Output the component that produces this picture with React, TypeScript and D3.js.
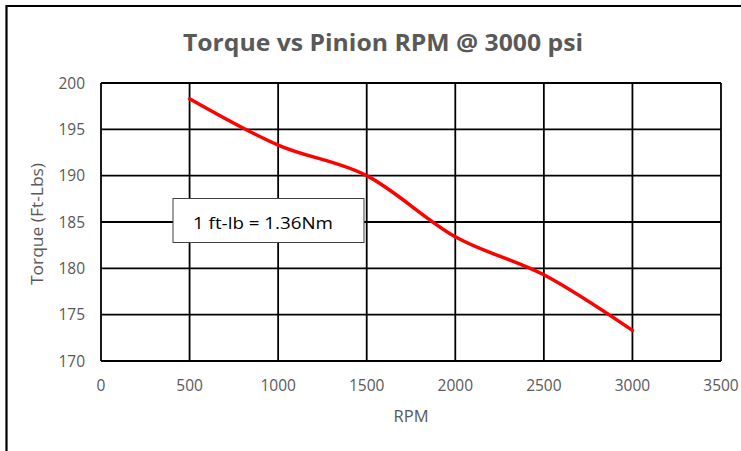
import React from "react";
import * as d3 from "d3";

const rpm = [500, 1000, 1500, 2000, 2500, 3000];
const torque = [198.3, 193.3, 190.0, 183.4, 179.3, 173.3];
const xTicks = [0, 500, 1000, 1500, 2000, 2500, 3000, 3500];
const yTicks = [170, 175, 180, 185, 190, 195, 200];
const title = "Torque vs Pinion RPM  @ 3000 psi";
const xTitle = "RPM";
const yTitle = "Torque (Ft-Lbs)";
const note = "1 ft-lb = 1.36Nm";

const W = 741;
const H = 451;
const FONT = "'Open Sans', 'DejaVu Sans', sans-serif";
const GRAY = "#595959";

export default function App() {
  const x = d3.scaleLinear().domain([0, 3500]).range([101, 721]);
  const y = d3.scaleLinear().domain([170, 200]).range([361, 83]);
  const pts: [number, number][] = rpm.map((r, i) => [r, torque[i]]);
  const line = d3
    .line<[number, number]>()
    .x((d) => x(d[0]))
    .y((d) => y(d[1]))
    .curve(d3.curveCardinal.tension(0));

  return (
    <svg
      width={W}
      height={H}
      style={{ position: "absolute", left: 0, top: 0, display: "block" }}
    >
      <rect x={0} y={0} width={W} height={H} fill="#fff" />
      {/* outer frame (top and left visible) */}
      <line x1={6.5} y1={6} x2={W} y2={6} stroke="#000" strokeWidth={2.2} />
      <line x1={6.5} y1={5} x2={6.5} y2={H} stroke="#000" strokeWidth={2.2} />

      <text
        x={383}
        y={51}
        textAnchor="middle"
        fontFamily={FONT}
        fontWeight="bold"
        fontSize={23}
        fill={GRAY}
        textLength={400}
        lengthAdjust="spacingAndGlyphs"
      >
        {title}
      </text>

      {/* grid */}
      {yTicks.map((t) => (
        <line
          key={"gy" + t}
          x1={x(0)}
          x2={x(3500)}
          y1={y(t)}
          y2={y(t)}
          stroke="#000"
          strokeWidth={1.8}
        />
      ))}
      {xTicks.map((t) => (
        <line
          key={"gx" + t}
          x1={x(t)}
          x2={x(t)}
          y1={y(170)}
          y2={y(200)}
          stroke="#000"
          strokeWidth={1.8}
        />
      ))}

      {/* y tick labels */}
      {yTicks.map((t) => (
        <text
          key={"ly" + t}
          x={85}
          y={y(t) + 5.5}
          textAnchor="end"
          fontFamily={FONT}
          fontSize={15.5}
          fill={GRAY}
        >
          {t}
        </text>
      ))}
      {/* x tick labels */}
      {xTicks.map((t) => (
        <text
          key={"lx" + t}
          x={x(t)}
          y={391}
          textAnchor="middle"
          fontFamily={FONT}
          fontSize={15.5}
          fill={GRAY}
        >
          {t}
        </text>
      ))}

      <text
        x={411}
        y={422}
        textAnchor="middle"
        fontFamily={FONT}
        fontSize={16.5}
        fill={GRAY}
      >
        {xTitle}
      </text>
      <text
        transform={`translate(43,224) rotate(-90)`}
        textAnchor="middle"
        fontFamily={FONT}
        fontSize={16.5}
        fill={GRAY}
        textLength={122}
        lengthAdjust="spacingAndGlyphs"
      >
        {yTitle}
      </text>

      <path
        d={line(pts) || ""}
        fill="none"
        stroke="#ff0000"
        strokeWidth={3.5}
        strokeLinecap="round"
      />

      <rect
        x={173}
        y={198.5}
        width={191}
        height={44}
        fill="#fff"
        stroke="#404040"
        strokeWidth={1}
      />
      <text
        x={193}
        y={229}
        fontFamily={FONT}
        fontSize={17}
        fill="#000"
        textLength={140}
        lengthAdjust="spacingAndGlyphs"
      >
        {note}
      </text>
    </svg>
  );
}
